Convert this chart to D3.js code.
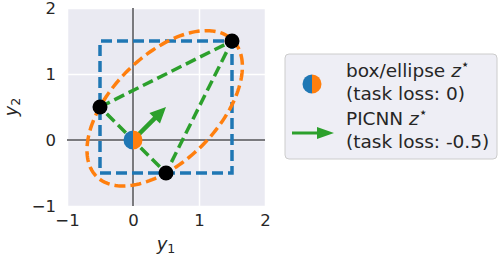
<!DOCTYPE html>
<meta charset="utf-8">
<script src="https://d3js.org/d3.v7.min.js"></script>
<style>
  body { margin: 0; background: #fff; }
  text { font-family: "DejaVu Sans", sans-serif; fill: #262626; }
</style>
<div id="chart"></div>
<script>
// axis ticks
var xTicks = [-1, 0, 1, 2]
var yTicks = [-1, 0, 1, 2]
// box corners (lower left, upper right)
var boxLo = [-0.5, -0.5]
var boxHi = [1.5, 1.5]
// ellipse: center, semi-axes, rotation in degrees
var ellCenter = [0.48, 0.48]
var ellAxes = [1.46, 0.80]
var ellAngle = 45
// vertices of the triangle (black points)
var vertices = [[-0.5, 0.5], [1.5, 1.5], [0.5, -0.5]]
// z* of box / ellipse, and picnn arrow direction
var zStar = [0, 0]
var arrowTip = [0.5, 0.5]

var colors = {blue: "#1f77b4", orange: "#ff7f0e", green: "#2ca02c"}

const W = 499, H = 264
const plot = {left: 67, top: 8, width: 198, height: 198}

const svg = d3.select("#chart").append("svg")
  .attr("width", W).attr("height", H)

var xScale = d3.scaleLinear().domain([-1, 2]).range([plot.left, plot.left + plot.width])
var yScale = d3.scaleLinear().domain([-1, 2]).range([plot.top + plot.height, plot.top])

svg.append("rect")
  .attr("x", plot.left).attr("y", plot.top)
  .attr("width", plot.width).attr("height", plot.height)
  .attr("fill", "#eaeaf2")

// grid lines
var fmt = d => d3.format("d")(d).replace("-", "\u2212")
var xAxis = d3.axisBottom(xScale).tickValues(xTicks).tickSize(-plot.height).tickPadding(8).tickFormat(fmt)
var yAxis = d3.axisLeft(yScale).tickValues(yTicks).tickSize(-plot.width).tickPadding(11).tickFormat(fmt)

svg.append("g").attr("transform", `translate(0,${plot.top + plot.height})`).call(xAxis)
svg.append("g").attr("transform", `translate(${plot.left},0)`).call(yAxis)
svg.selectAll(".domain").remove()
svg.selectAll(".tick line").attr("stroke", "#fff").attr("stroke-width", 1.5)
svg.selectAll(".tick text").attr("font-size", 16.5).attr("fill", "#262626")
  .attr("font-family", "DejaVu Sans")

// zero lines
svg.append("line")
  .attr("x1", xScale(0)).attr("x2", xScale(0))
  .attr("y1", plot.top).attr("y2", plot.top + plot.height)
  .attr("stroke", "#7a7a7e").attr("stroke-width", 2)
svg.append("line")
  .attr("x1", plot.left).attr("x2", plot.left + plot.width)
  .attr("y1", yScale(0)).attr("y2", yScale(0))
  .attr("stroke", "#7a7a7e").attr("stroke-width", 2)

var dash = "11,5"
var lw = 3.5
var line = d3.line().x(d => xScale(d[0])).y(d => yScale(d[1]))

// box
var boxPts = [[boxLo[0], boxLo[1]], [boxHi[0], boxLo[1]], [boxHi[0], boxHi[1]], [boxLo[0], boxHi[1]], [boxLo[0], boxLo[1]]]
svg.append("path").datum(boxPts).attr("d", line)
  .attr("fill", "none").attr("stroke", colors.blue)
  .attr("stroke-width", lw).attr("stroke-dasharray", dash)

// ellipse
var th = ellAngle * Math.PI / 180
var ellPts = d3.range(0, 361, 2).map(function(a) {
  var t = a * Math.PI / 180
  var u = ellAxes[0] * Math.cos(t), v = ellAxes[1] * Math.sin(t)
  return [ellCenter[0] + u * Math.cos(th) + v * Math.sin(th),
          ellCenter[1] + u * Math.sin(th) - v * Math.cos(th)]
})
svg.append("path").datum(ellPts).attr("d", line)
  .attr("fill", "none").attr("stroke", colors.orange)
  .attr("stroke-width", lw).attr("stroke-dasharray", dash)

// triangle
svg.append("path").datum(vertices.concat([vertices[0]])).attr("d", line)
  .attr("fill", "none").attr("stroke", colors.green)
  .attr("stroke-width", lw).attr("stroke-dasharray", dash)

function arrowPath(x0, y0, x1, y1, shaftW, headW, headL) {
  var dx = x1 - x0, dy = y1 - y0, len = Math.sqrt(dx * dx + dy * dy)
  var ux = dx / len, uy = dy / len, nx = -uy, ny = ux
  var bx = x1 - ux * headL, by = y1 - uy * headL
  var p = [
    [x0 + nx * shaftW / 2, y0 + ny * shaftW / 2],
    [bx + nx * shaftW / 2, by + ny * shaftW / 2],
    [bx + nx * headW / 2, by + ny * headW / 2],
    [x1, y1],
    [bx - nx * headW / 2, by - ny * headW / 2],
    [bx - nx * shaftW / 2, by - ny * shaftW / 2],
    [x0 - nx * shaftW / 2, y0 - ny * shaftW / 2]
  ]
  return "M" + p.map(d => d.join(",")).join("L") + "Z"
}

svg.append("path")
  .attr("d", arrowPath(xScale(zStar[0]), yScale(zStar[1]), xScale(arrowTip[0]), yScale(arrowTip[1]), 4.5, 15, 16))
  .attr("fill", colors.green)

// black points
svg.selectAll(".vert").data(vertices).join("circle")
  .attr("cx", d => xScale(d[0])).attr("cy", d => yScale(d[1]))
  .attr("r", 7.5).attr("fill", "#000")

function halfDot(g, cx, cy, r) {
  var arc = d3.arc().innerRadius(0).outerRadius(r)
  g.append("path").attr("transform", `translate(${cx},${cy})`)
    .attr("d", arc({startAngle: Math.PI, endAngle: 2 * Math.PI})).attr("fill", colors.blue)
  g.append("path").attr("transform", `translate(${cx},${cy})`)
    .attr("d", arc({startAngle: 0, endAngle: Math.PI})).attr("fill", colors.orange)
}
halfDot(svg, xScale(zStar[0]), yScale(zStar[1]), 9.5)

// axis labels
var xl = svg.append("text").attr("x", plot.left + plot.width / 2).attr("y", 250)
  .attr("text-anchor", "middle").attr("font-size", 18)
xl.append("tspan").attr("font-style", "italic").text("y")
xl.append("tspan").attr("font-size", 12.5).attr("dy", 3).text("1")

var yl = svg.append("text")
  .attr("transform", `translate(17,${plot.top + plot.height / 2}) rotate(-90)`)
  .attr("text-anchor", "middle").attr("font-size", 17.5)
yl.append("tspan").attr("font-style", "italic").text("y")
yl.append("tspan").attr("font-size", 12.5).attr("dy", 3).text("2")

// legend
var lg = svg.append("g")
lg.append("rect").attr("x", 285).attr("y", 54).attr("width", 212).attr("height", 105)
  .attr("rx", 4).attr("fill", "#eeeef5").attr("stroke", "#cccccc").attr("stroke-width", 1)
halfDot(lg, 312, 84, 9.5)
lg.append("path").attr("d", arrowPath(292, 133, 334, 133, 3, 12, 17)).attr("fill", colors.green)

var legendRows = [["box/ellipse ", "(task loss: 0)", 77], ["PICNN ", "(task loss: -0.5)", 125]]
legendRows.forEach(function(r) {
  var t = lg.append("text").attr("x", 346).attr("y", r[2]).attr("font-size", 18.5)
  t.append("tspan").text(r[0])
  t.append("tspan").attr("font-style", "italic").text("z")
  t.append("tspan").attr("font-size", 14).attr("dy", -8).text("\u22c6")
  lg.append("text").attr("x", 346).attr("y", r[2] + 23).attr("font-size", 18.5).text(r[1])
})
</script>
